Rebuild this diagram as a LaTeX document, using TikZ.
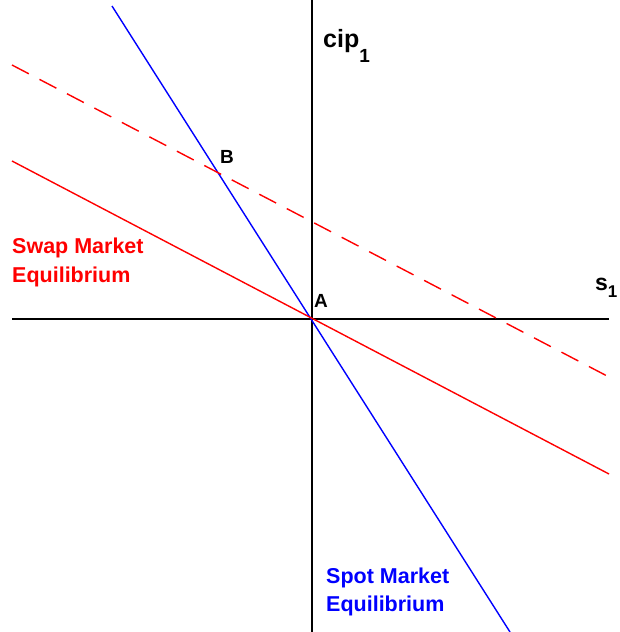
\documentclass[tikz,border=0pt]{standalone}
\usepackage{fontspec}
\setmainfont{Liberation Sans}
\usetikzlibrary{positioning}

\begin{document}
\begin{tikzpicture}[x=1pt,y=-1pt,
    axis/.style={line width=2.6pt, black},
    spot/.style={line width=1.4pt, blue},
    swap/.style={line width=1.4pt, red},
    lbl/.style={inner sep=0pt, anchor=base west, font=\bfseries\fontsize{21.5}{24}\selectfont}]
  \useasboundingbox (0,0) rectangle (619,632);

  % axes
  \coordinate (ytop) at (312,0);
  \coordinate (ybot) at (312,632);
  \coordinate (xl) at (12,319);
  \coordinate (xr) at (609,319);
  \draw[axis] (ytop) -- (ybot);
  \draw[axis] (xl) -- (xr);

  % spot market line
  \coordinate (spotA) at (112,6);
  \coordinate (spotB) at (510,632);
  \draw[spot] (spotA) -- (spotB);

  % swap market lines
  \coordinate (swapA) at (12,161);
  \coordinate (swapB) at (609,474);
  \draw[swap] (swapA) -- (swapB);
  \coordinate (swapC) at (12,65);
  \coordinate (swapD) at (609,377);
  \draw[swap, dash pattern=on 19pt off 12pt] (swapC) -- (swapD);

  % labels
  \node[lbl, font=\bfseries\fontsize{25}{28}\selectfont] (cip) at (323,47)
    {cip\raisebox{-15pt}{\fontsize{19}{20}\selectfont 1}};
  \node[lbl, font=\bfseries\fontsize{23}{26}\selectfont] (s) at (595,290)
    {s\raisebox{-7pt}{\fontsize{17}{20}\selectfont 1}};
  \node[lbl, font=\bfseries\fontsize{19}{20}\selectfont] (ptA) at (314,307) {A};
  \node[lbl, font=\bfseries\fontsize{19}{20}\selectfont] (ptB) at (220,163) {B};

  \node[lbl, red] (swap1) at (12,253) {Swap Market};
  \node[lbl, red] (swap2) at (12,282) {Equilibrium};
  \node[lbl, blue] (spot1) at (326,583) {Spot Market};
  \node[lbl, blue] (spot2) at (326,611) {Equilibrium};
\end{tikzpicture}
\end{document}
